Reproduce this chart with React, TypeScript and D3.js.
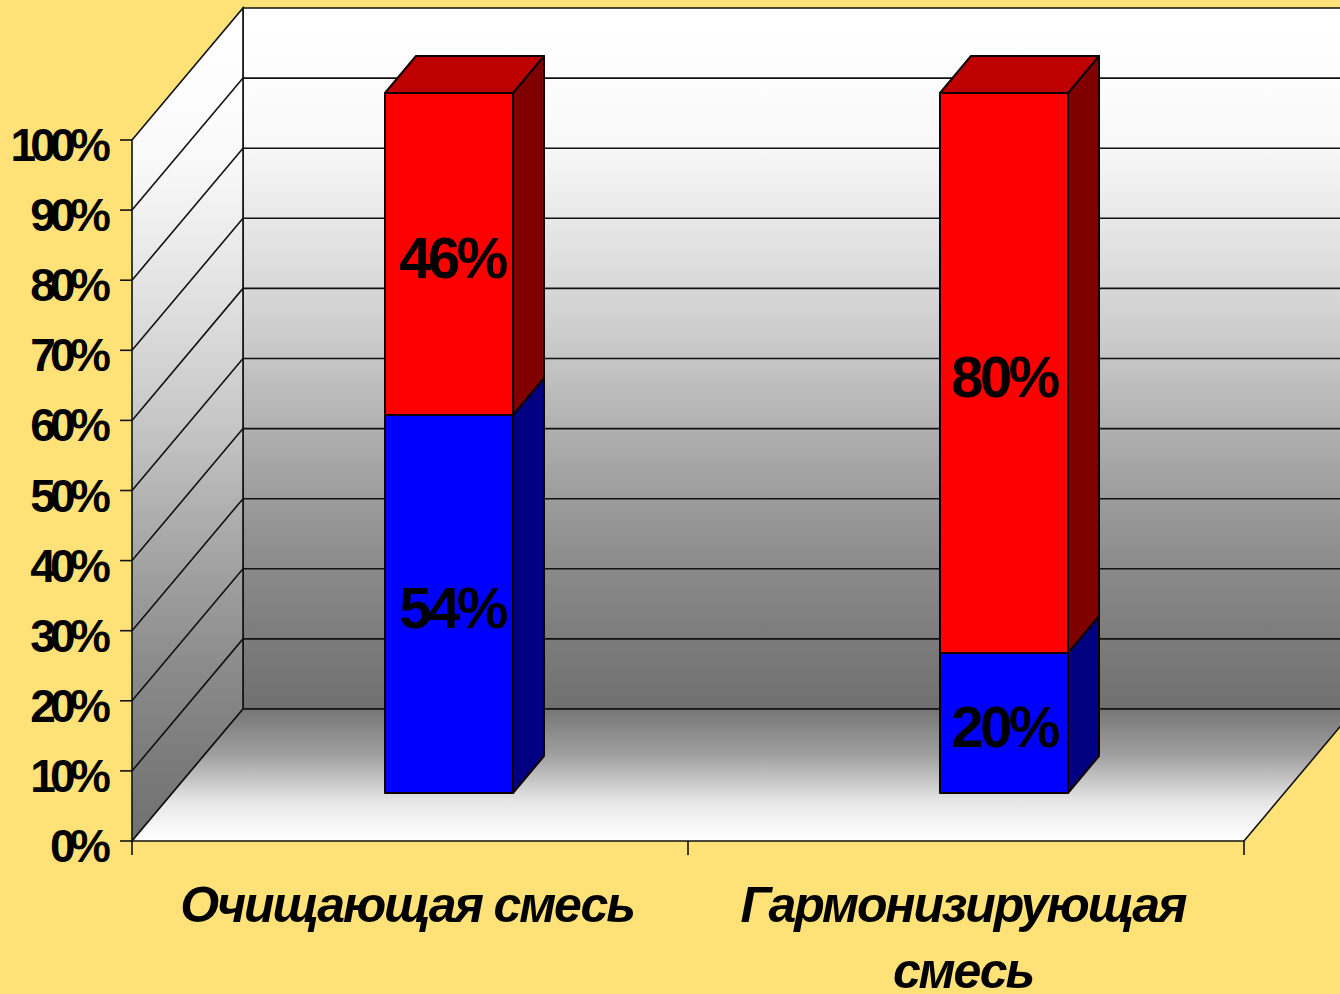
import React from "react";
import * as d3 from "d3";

const categories = ["Очищающая смесь", "Гармонизирующая смесь"];
const categoryLines = [["Очищающая смесь"], ["Гармонизирующая", "смесь"]];
const cleansingShares = [54, 46];
const harmonizingShares = [20, 80];
const seriesValues = [cleansingShares, harmonizingShares];
const tickValues = [0, 10, 20, 30, 40, 50, 60, 70, 80, 90, 100];

const frontColors = ["#0000ff", "#ff0000"];
const sideColors = ["#000080", "#800000"];
const topColor = "#bf0000";

// Grey ramp of the walls, light at the top and dark at the floor.
const wallStops: [number, string][] = [
  [0, "#ffffff"],
  [0.1, "#fdfdfd"],
  [0.2, "#f7f7f7"],
  [0.3, "#e8e8e8"],
  [0.4, "#d8d8d8"],
  [0.5, "#c6c6c6"],
  [0.6, "#b0b0b0"],
  [0.7, "#9c9c9c"],
  [0.8, "#8a8a8a"],
  [0.9, "#7c7c7c"],
  [1, "#707070"],
];
const floorStops: [number, string][] = [
  [0, "#767676"],
  [0.35, "#a0a0a0"],
  [0.7, "#e6e6e6"],
  [0.9, "#f8f8f8"],
  [1, "#ffffff"],
];

// Oblique projection of the box: the back wall is shifted by this vector.
const wallDx = 111;
const wallDy = -132;
const barDx = 31;
const barDy = -37;
const barWidth = 128;

const W = 1340;
const H = 994;

const xSlot = d3.scaleBand<string>().domain(categories).range([132, 1244]);
const xBar = d3.scalePoint<string>().domain(categories).range([449, 1004]);
const xLabel = d3.scalePoint<string>().domain(categories).range([452, 1004]);
const yFront = d3.scaleLinear().domain([0, 100]).range([841, 140]);
const yBar = d3.scaleLinear().domain([0, 100]).range([793, 93]);
const barLeft = (c: string) => (xBar(c) as number) - barWidth / 2;

const poly = (pts: [number, number][]) => pts.map((p) => p.join(",")).join(" ");

export default function App() {
  const x0 = xSlot.range()[0];
  const x1 = xSlot.range()[1];
  const y0 = yFront(0);
  const stroke = "#111";
  const lineWidth = 1.6;
  return (
    <svg
      width={W}
      height={H}
      viewBox={`0 0 ${W} ${H}`}
      style={{ position: "fixed", left: 0, top: 0, display: "block" }}
    >
      <defs>
        <linearGradient id="wallFill" x1="0" y1="0" x2="0" y2="1">
          {wallStops.map(([o, c]) => (
            <stop key={o} offset={o} stopColor={c} />
          ))}
        </linearGradient>
        <linearGradient id="floorFill" x1="0" y1="0" x2="0" y2="1">
          {floorStops.map(([o, c]) => (
            <stop key={o} offset={o} stopColor={c} />
          ))}
        </linearGradient>
      </defs>

      <rect width={W} height={H} fill="#ffe277" />

      {/* Box walls and floor */}
      <polygon
        points={poly([
          [x0 + wallDx, yFront(100) + wallDy],
          [x1 + wallDx, yFront(100) + wallDy],
          [x1 + wallDx, y0 + wallDy],
          [x0 + wallDx, y0 + wallDy],
        ])}
        fill="url(#wallFill)"
        stroke={stroke}
        strokeWidth={lineWidth}
      />
      <polygon
        points={poly([
          [x0, yFront(100)],
          [x0 + wallDx, yFront(100) + wallDy],
          [x0 + wallDx, y0 + wallDy],
          [x0, y0],
        ])}
        fill="url(#wallFill)"
        stroke={stroke}
        strokeWidth={lineWidth}
      />
      <polygon
        points={poly([
          [x0, y0],
          [x1, y0],
          [x1 + wallDx, y0 + wallDy],
          [x0 + wallDx, y0 + wallDy],
        ])}
        fill="url(#floorFill)"
        stroke={stroke}
        strokeWidth={lineWidth}
      />

      {/* Gridlines running along the side wall and the back wall */}
      {tickValues.slice(1, -1).map((t) => (
        <polyline
          key={t}
          points={poly([
            [x0, yFront(t)],
            [x0 + wallDx, yFront(t) + wallDy],
            [x1 + wallDx, yFront(t) + wallDy],
          ])}
          fill="none"
          stroke={stroke}
          strokeWidth={lineWidth}
        />
      ))}

      {/* Value axis */}
      {tickValues.map((t) => (
        <g key={t}>
          <line x1={x0 - 12} x2={x0} y1={yFront(t)} y2={yFront(t)} stroke={stroke} strokeWidth={lineWidth} />
          <text
            x={105}
            y={yFront(t) + 21}
            textAnchor="end"
            fontFamily="Liberation Sans"
            fontWeight={700}
            fontSize={46}
            letterSpacing={-5.8}
            fill="#000"
          >
            {t}%
          </text>
        </g>
      ))}

      {/* Category axis */}
      {[x0, x0 + xSlot.step(), x1].map((x) => (
        <line key={x} x1={x} x2={x} y1={y0} y2={y0 + 14} stroke={stroke} strokeWidth={lineWidth} />
      ))}
      {categories.map((c, i) =>
        categoryLines[i].map((line, k) => (
          <text
            key={line}
            x={[407, 963][i]}
            y={922 + k * 66}
            textAnchor="middle"
            fontFamily="Liberation Sans"
            fontWeight={700}
            fontStyle="italic"
            fontSize={50}
            letterSpacing={-2.1}
            fill="#000"
          >
            {line}
          </text>
        ))
      )}

      {/* Stacked bars, bottom segment first */}
      {categories.map((c, i) => {
        const l = barLeft(c);
        const r = l + barWidth;
        let acc = 0;
        const segments = seriesValues[i].map((v, s) => {
          const start = acc;
          acc += v;
          return { s, v, y0: yBar(start), y1: yBar(acc) };
        });
        const top = segments[segments.length - 1];
        return (
          <g key={c} stroke="#100000" strokeWidth={2} strokeLinejoin="round">
            {segments.map((g) => (
              <g key={g.s}>
                <polygon
                  points={poly([
                    [r, g.y1],
                    [r + barDx, g.y1 + barDy],
                    [r + barDx, g.y0 + barDy],
                    [r, g.y0],
                  ])}
                  fill={sideColors[g.s]}
                />
                <rect x={l} y={g.y1} width={barWidth} height={g.y0 - g.y1} fill={frontColors[g.s]} />
              </g>
            ))}
            <polygon
              points={poly([
                [l, top.y1],
                [l + barDx, top.y1 + barDy],
                [r + barDx, top.y1 + barDy],
                [r, top.y1],
              ])}
              fill={topColor}
            />
          </g>
        );
      })}

      {/* Value labels centred on each segment */}
      {categories.map((c, i) => {
        let acc = 0;
        return seriesValues[i].map((v) => {
          const mid = acc + v / 2;
          acc += v;
          return (
            <text
              key={`${c}-${v}`}
              x={xLabel(c) as number}
              y={yBar(mid) + 23.5}
              textAnchor="middle"
              fontFamily="Liberation Sans"
              fontWeight={700}
              fontSize={58}
              letterSpacing={-3.5}
              fill="#000"
            >
              {v}%
            </text>
          );
        });
      })}
    </svg>
  );
}
